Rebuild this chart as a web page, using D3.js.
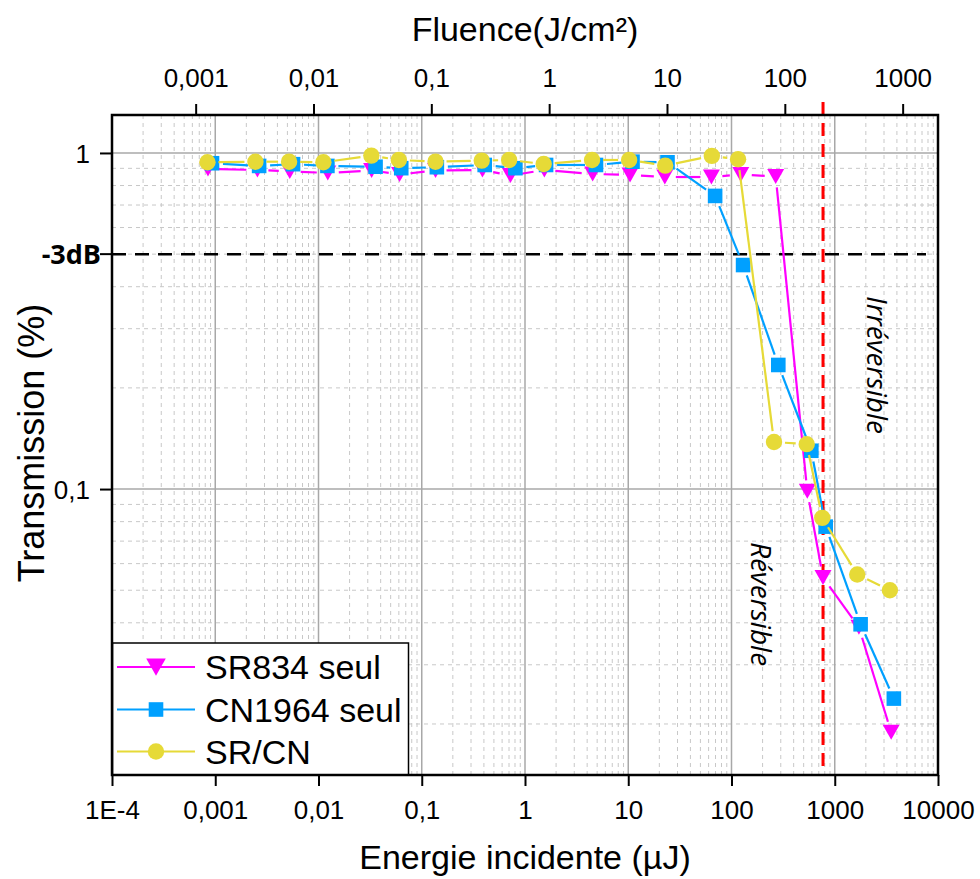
<!DOCTYPE html>
<html><head><meta charset="utf-8">
<script src="https://cdn.jsdelivr.net/npm/d3@7"></script>
<style>body{margin:0;background:#fff}</style>
</head><body><svg id="c" width="980" height="879"></svg>
<script>
// ---------- DATA ----------
const energySR  = [0.00085, 0.00256, 0.00527, 0.0123, 0.0327, 0.061, 0.136, 0.387, 0.723, 1.54, 4.52, 10.4, 22.6, 63.9, 123, 268, 542, 769, 1714, 3519];
const transSR   = [0.896, 0.890, 0.881, 0.872, 0.887, 0.863, 0.887, 0.890, 0.857, 0.890, 0.866, 0.860, 0.848, 0.848, 0.863, 0.851, 0.0985, 0.0546, 0.0388, 0.0189];
const energyCN  = [0.00093, 0.00266, 0.00567, 0.0122, 0.0357, 0.0633, 0.140, 0.407, 0.807, 1.60, 4.87, 11.0, 24.0, 69.4, 129.5, 284, 593, 817, 1780, 3736];
const transCN   = [0.932, 0.915, 0.926, 0.915, 0.910, 0.901, 0.907, 0.921, 0.901, 0.921, 0.921, 0.942, 0.938, 0.745, 0.464, 0.234, 0.130, 0.0773, 0.0396, 0.0238];
const energyMix = [0.00084, 0.00245, 0.00519, 0.01115, 0.0325, 0.060, 0.136, 0.381, 0.702, 1.517, 4.46, 10.2, 22.8, 64.5, 115.8, 258, 535, 757, 1651, 3420];
const transMix  = [0.938, 0.942, 0.942, 0.938, 0.982, 0.953, 0.942, 0.949, 0.953, 0.927, 0.953, 0.953, 0.917, 0.980, 0.958, 0.138, 0.136, 0.0821, 0.0557, 0.0500];

const seriesNames = ["SR834 seul", "CN1964 seul", "SR/CN"];

const bottomTickValues = [1e-4, 1e-3, 1e-2, 1e-1, 1, 10, 100, 1000, 10000];
const bottomTickLabels = ["1E-4", "0,001", "0,01", "0,1", "1", "10", "100", "1000", "10000"];
const topTickValues = [0.001, 0.01, 0.1, 1, 10, 100, 1000];
const topTickLabels = ["0,001", "0,01", "0,1", "1", "10", "100", "1000"];
const yTickValues = [1, 0.1];
const yTickLabels = ["1", "0,1"];
const dB3Value = 0.5;
const dB3Label = "-3dB";
const thresholdEnergy = 770;

const xDomain = [1e-4, 1e4];
const xTopDomain = [Math.pow(10, -3.71), Math.pow(10, 3.30)];
const yDomain = [0.0141, 1.297];

// ---------- LAYOUT ----------
const L = 112, R = 938, T = 115, B = 775;
const colors = ["#FF00FF", "#00A0FF", "#E6DA37"];
const svg = d3.select("#c");
const x = d3.scaleLog().domain(xDomain).range([L, R]);
const xTop = d3.scaleLog().domain(xTopDomain).range([L, R]);
const y = d3.scaleLog().domain(yDomain).range([B, T]);

function minorVals(domain) {
  const out = [];
  const lo = Math.floor(Math.log10(domain[0])), hi = Math.ceil(Math.log10(domain[1]));
  for (let e = lo; e <= hi; e++) for (let k = 2; k <= 9; k++) {
    const v = k * Math.pow(10, e);
    if (v >= domain[0] * 0.9999 && v <= domain[1] * 1.0001) out.push(v);
  }
  return out;
}
function majorVals(domain) {
  const out = [];
  const lo = Math.floor(Math.log10(domain[0])), hi = Math.ceil(Math.log10(domain[1]));
  for (let e = lo; e <= hi; e++) { const v = Math.pow(10, e); if (v >= domain[0]*0.9999 && v <= domain[1]*1.0001) out.push(v); }
  return out;
}

// ---------- GRID ----------
const grid = svg.append("g");
grid.selectAll(".vmin").data(minorVals(xDomain)).enter().append("line")
  .attr("x1", d => x(d)).attr("x2", d => x(d)).attr("y1", T).attr("y2", B)
  .attr("stroke", "#C8C8C8").attr("stroke-width", 1).attr("stroke-dasharray", "4,4");
grid.selectAll(".hmin").data(minorVals(yDomain)).enter().append("line")
  .attr("y1", d => y(d)).attr("y2", d => y(d)).attr("x1", L).attr("x2", R)
  .attr("stroke", "#C8C8C8").attr("stroke-width", 1).attr("stroke-dasharray", "4,4");
grid.selectAll(".vmaj").data(majorVals(xDomain).filter(v => v > xDomain[0] && v < xDomain[1])).enter().append("line")
  .attr("x1", d => x(d)).attr("x2", d => x(d)).attr("y1", T).attr("y2", B)
  .attr("stroke", "#A8A8A8").attr("stroke-width", 1.5);
grid.selectAll(".hmaj").data(yTickValues).enter().append("line")
  .attr("y1", d => y(d)).attr("y2", d => y(d)).attr("x1", L).attr("x2", R)
  .attr("stroke", "#A8A8A8").attr("stroke-width", 1.5);

// ---------- REFERENCE LINES ----------
svg.append("line").attr("x1", L).attr("x2", 926).attr("y1", y(dB3Value)).attr("y2", y(dB3Value))
  .attr("stroke", "#000").attr("stroke-width", 2.5).attr("stroke-dasharray", "14,9");
svg.append("line").attr("x1", x(thresholdEnergy)).attr("x2", x(thresholdEnergy)).attr("y1", 102).attr("y2", B)
  .attr("stroke", "#FF0000").attr("stroke-width", 3).attr("stroke-dasharray", "13,8");

// ---------- ANNOTATIONS ----------
svg.append("text").attr("transform", `translate(878,365) rotate(90)`)
  .attr("text-anchor", "middle").attr("dominant-baseline", "central")
  .style("font-family", "'Open Sans', sans-serif").style("font-style", "italic").style("font-size", "28px")
  .text("Irréversible");
svg.append("text").attr("transform", `translate(762,604) rotate(90)`)
  .attr("text-anchor", "middle").attr("dominant-baseline", "central")
  .style("font-family", "'Open Sans', sans-serif").style("font-style", "italic").style("font-size", "28px")
  .text("Réversible");

// ---------- MARKERS ----------
function markerPath(type, cx, cy, s) {
  if (type === "tri") {
    const w = 8.5 * s, h = 15 * s;
    return `M${cx - w},${cy - h/2}L${cx + w},${cy - h/2}L${cx},${cy + h/2}Z`;
  } else if (type === "sq") {
    const a = 7.3 * s;
    return `M${cx - a},${cy - a}h${2*a}v${2*a}h${-2*a}Z`;
  } else {
    const r = 8.2 * s;
    return `M${cx - r},${cy}a${r},${r} 0 1,0 ${2*r},0a${r},${r} 0 1,0 ${-2*r},0Z`;
  }
}
const seriesList = [
  { e: energySR, t: transSR, type: "tri" },
  { e: energyCN, t: transCN, type: "sq" },
  { e: energyMix, t: transMix, type: "circ" }
];
const lineGen = d3.line();
const gap = 11;
seriesList.forEach((s, si) => {
  const pts = s.e.map((e, i) => [x(e), y(s.t[i])]);
  const g = svg.append("g");
  for (let i = 0; i < pts.length - 1; i++) {
    const [x1, y1] = pts[i], [x2, y2] = pts[i+1];
    const dx = x2 - x1, dy = y2 - y1, len = Math.hypot(dx, dy);
    if (len <= 2 * gap) continue;
    const ux = dx / len, uy = dy / len;
    g.append("path").attr("d", lineGen([[x1 + ux*gap, y1 + uy*gap], [x2 - ux*gap, y2 - uy*gap]]))
      .attr("stroke", colors[si]).attr("stroke-width", 2.2).attr("fill", "none");
  }
  g.selectAll(".m").data(pts).enter().append("path")
    .attr("d", p => markerPath(s.type, p[0], p[1], 1)).attr("fill", colors[si]);
});

// ---------- LEGEND ----------
const lg = svg.append("g");
lg.append("rect").attr("x", 112.5).attr("y", 643).attr("width", 296).attr("height", B - 643)
  .attr("fill", "#fff").attr("stroke", "#000").attr("stroke-width", 1.5);
const rowY = [667, 709.5, 751.5];
seriesNames.forEach((n, i) => {
  lg.append("line").attr("x1", 117).attr("x2", 195).attr("y1", rowY[i]).attr("y2", rowY[i])
    .attr("stroke", colors[i]).attr("stroke-width", 2.2);
  lg.append("path").attr("d", markerPath(seriesList[i].type, 156, rowY[i], i === 0 ? 1.15 : 1))
    .attr("fill", colors[i]);
  lg.append("text").attr("x", 205).attr("y", rowY[i] + 12)
    .style("font-family", "'Liberation Sans', Arial, sans-serif").style("font-size", "34px").text(n);
});

// ---------- AXES ----------
const font = "'Liberation Sans', Arial, sans-serif";
// bottom
const axB = svg.append("g").attr("transform", `translate(0,${B})`);
axB.call(d3.axisBottom(x).tickValues(minorVals(xDomain)).tickSize(6).tickFormat(""));
axB.call(d3.axisBottom(x).tickValues(bottomTickValues).tickSize(11).tickFormat((d, i) => bottomTickLabels[i]));
axB.selectAll("text").attr("y", 44).attr("dy", 0).style("font-family", font).style("font-size", "26px").attr("fill", "#000");
axB.selectAll("path.domain").remove();
axB.selectAll("line").attr("stroke", "#000").attr("stroke-width", 2);

// top
const axT = svg.append("g").attr("transform", `translate(0,${T})`);
axT.call(d3.axisTop(xTop).tickValues(minorVals(xTopDomain)).tickSize(6).tickFormat(""));
axT.call(d3.axisTop(xTop).tickValues(topTickValues).tickSize(11).tickFormat((d, i) => topTickLabels[i]));
axT.selectAll("text").attr("y", -28).attr("dy", 0).style("font-family", font).style("font-size", "26px").attr("fill", "#000");
axT.selectAll("path.domain").remove();
axT.selectAll("line").attr("stroke", "#000").attr("stroke-width", 2);

// left
const axL = svg.append("g").attr("transform", `translate(${L},0)`);
axL.call(d3.axisLeft(y).tickValues(minorVals(yDomain)).tickSize(7).tickFormat(""));
axL.call(d3.axisLeft(y).tickValues(yTickValues).tickSize(12).tickFormat((d, i) => yTickLabels[i]));
axL.selectAll("text").attr("x", -22).attr("dy", "0.35em").style("font-family", font).style("font-size", "26px").attr("fill", "#000");
axL.selectAll("path.domain").remove();
axL.selectAll("line").attr("stroke", "#000").attr("stroke-width", 2);
axL.append("line").attr("x1", -12).attr("x2", 0).attr("y1", y(dB3Value)).attr("y2", y(dB3Value)).attr("stroke", "#000").attr("stroke-width", 2);
svg.append("text").attr("x", 101).attr("y", y(dB3Value)).attr("dy", "0.36em").attr("text-anchor", "end")
  .style("font-family", "'Open Sans', sans-serif").style("font-weight", "bold").style("font-size", "27px").text(dB3Label);

// frame
svg.append("rect").attr("x", L).attr("y", T).attr("width", R - L).attr("height", B - T)
  .attr("fill", "none").attr("stroke", "#000").attr("stroke-width", 2.5);

// titles
svg.append("text").attr("x", 525).attr("y", 41).attr("text-anchor", "middle")
  .style("font-family", font).style("font-size", "34px").text("Fluence(J/cm²)");
svg.append("text").attr("x", 525).attr("y", 869).attr("text-anchor", "middle")
  .style("font-family", font).style("font-size", "34px").text("Energie incidente (µJ)");
svg.append("text").attr("transform", "translate(44,443) rotate(-90)").attr("text-anchor", "middle")
  .style("font-family", font).style("font-size", "36px").text("Transmission (%)");
</script></body></html>
